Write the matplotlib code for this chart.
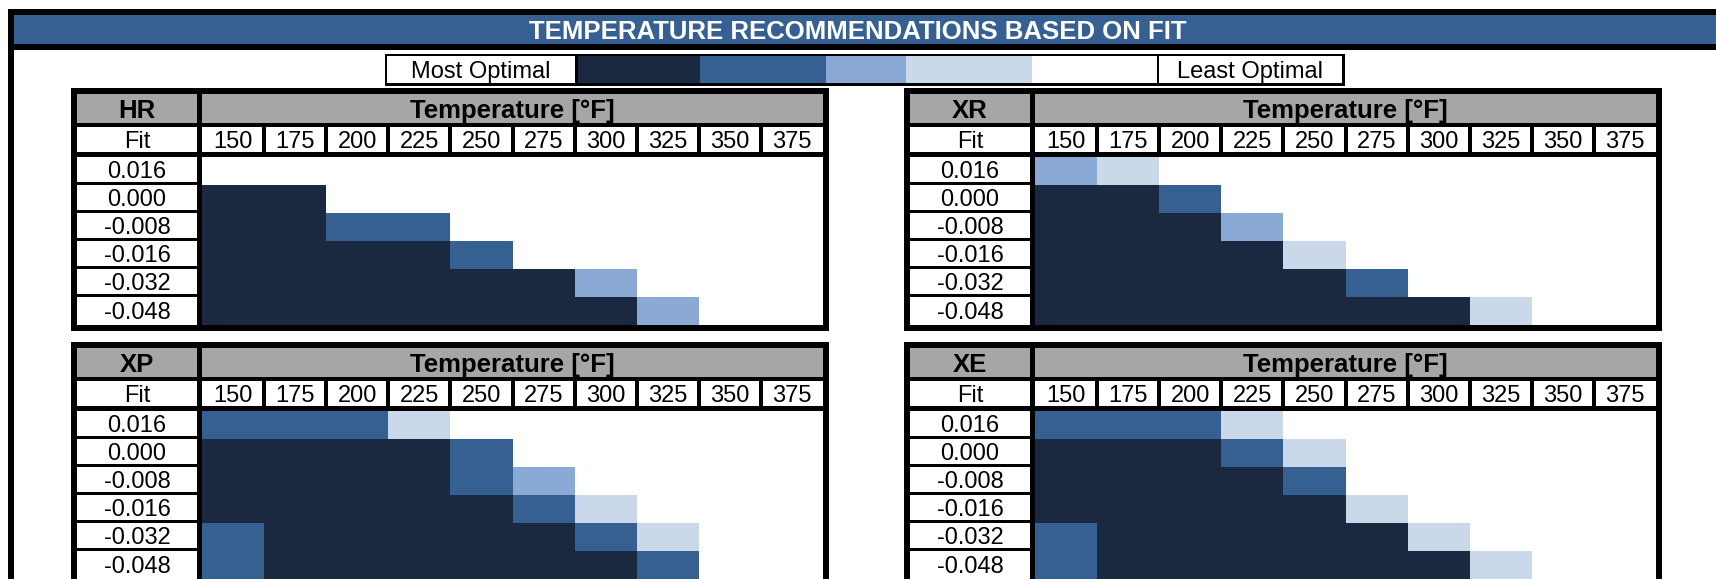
import matplotlib.pyplot as plt
import numpy as np
from matplotlib.colors import ListedColormap
from matplotlib.patches import Rectangle

# Data
fits = ['0.016', '0.000', '-0.008', '-0.016', '-0.032', '-0.048']
temps = [150, 175, 200, 225, 250, 275, 300, 325, 350, 375]
legend_ends = ['Most Optimal', 'Least Optimal']
ranks = [1, 2, 3, 4, 5]  # 1 = most optimal, 5 = least optimal

# rank per (fit, temperature)
hr_rank = [
    [5, 5, 5, 5, 5, 5, 5, 5, 5, 5],
    [1, 1, 5, 5, 5, 5, 5, 5, 5, 5],
    [1, 1, 2, 2, 5, 5, 5, 5, 5, 5],
    [1, 1, 1, 1, 2, 5, 5, 5, 5, 5],
    [1, 1, 1, 1, 1, 1, 3, 5, 5, 5],
    [1, 1, 1, 1, 1, 1, 1, 3, 5, 5],
]
xr_rank = [
    [3, 4, 5, 5, 5, 5, 5, 5, 5, 5],
    [1, 1, 2, 5, 5, 5, 5, 5, 5, 5],
    [1, 1, 1, 3, 5, 5, 5, 5, 5, 5],
    [1, 1, 1, 1, 4, 5, 5, 5, 5, 5],
    [1, 1, 1, 1, 1, 2, 5, 5, 5, 5],
    [1, 1, 1, 1, 1, 1, 1, 4, 5, 5],
]
xp_rank = [
    [2, 2, 2, 4, 5, 5, 5, 5, 5, 5],
    [1, 1, 1, 1, 2, 5, 5, 5, 5, 5],
    [1, 1, 1, 1, 2, 3, 5, 5, 5, 5],
    [1, 1, 1, 1, 1, 2, 4, 5, 5, 5],
    [2, 1, 1, 1, 1, 1, 2, 4, 5, 5],
    [2, 1, 1, 1, 1, 1, 1, 2, 5, 5],
]
xe_rank = [
    [2, 2, 2, 4, 5, 5, 5, 5, 5, 5],
    [1, 1, 1, 2, 4, 5, 5, 5, 5, 5],
    [1, 1, 1, 1, 2, 5, 5, 5, 5, 5],
    [1, 1, 1, 1, 1, 4, 5, 5, 5, 5],
    [2, 1, 1, 1, 1, 1, 4, 5, 5, 5],
    [2, 1, 1, 1, 1, 1, 1, 4, 5, 5],
]

# Colors
navy = '#1a2840'
mid_blue = '#366092'
light_blue = '#8ba9d5'
pale_blue = '#cad8ea'
header_gray = '#a6a6a6'
palette = [navy, mid_blue, light_blue, pale_blue, 'white']
cmap = ListedColormap(palette)

font = 'Liberation Sans'
small, big = 17, 18.5

fig = plt.figure(figsize=(17.16, 5.79), dpi=100)
ax = fig.add_axes([0, 0, 1, 1])
ax.set_xlim(0, 1716)
ax.set_ylim(579, 0)
ax.axis('off')


def box(x0, y0, x1, y1, color, z=1):
    ax.add_patch(Rectangle((x0, y0), x1 - x0, y1 - y0, facecolor=color,
                           edgecolor='none', zorder=z))


def label(x, yc, s, size, **kw):
    # put the middle of the cap height on yc (pixels, y grows downwards)
    ax.text(x, yc + 0.358 * size * 100 / 72, s, fontsize=size, ha='center',
            va='baseline', family=font, zorder=3, **kw)


# Outer frame and title band
box(8, 9, 1740, 50, 'black')
box(8, 9, 14, 600, 'black')
box(14, 15, 1740, 44, mid_blue, z=2)
label(858, 30, 'TEMPERATURE RECOMMENDATIONS BASED ON FIT', big,
      color='white', weight='bold')

# Legend strip
box(385, 54, 1345, 86, 'black')
box(387, 56, 575, 83, 'white', z=2)
box(1159, 56, 1342, 83, 'white', z=2)
seg_edges = [578, 700, 826, 906, 1032, 1157]
for r in ranks:
    box(seg_edges[r - 1], 56, seg_edges[r], 83, palette[r - 1], z=2)
label(481, 70, legend_ends[0], small)
label(1250, 70, legend_ends[1], small)


def draw_table(x0, y0, name, grid):
    box(x0, y0, x0 + 758, y0 + 243, 'black')
    lab_l, lab_r = x0 + 6, x0 + 126
    t_l, t_r = x0 + 131, x0 + 752
    col_w = (t_r - t_l) / len(temps)
    # header row
    box(lab_l, y0 + 6, lab_r, y0 + 35, header_gray, z=2)
    box(t_l, y0 + 6, t_r, y0 + 35, header_gray, z=2)
    label((lab_l + lab_r) / 2, y0 + 21, name, big, weight='bold')
    label((t_l + t_r) / 2, y0 + 21, 'Temperature [°F]', big, weight='bold')
    # sub-header row
    box(lab_l, y0 + 39, lab_r, y0 + 64, 'white', z=2)
    label((lab_l + lab_r) / 2, y0 + 52, 'Fit', small)
    for i, t in enumerate(temps):
        cl = t_l + i * col_w + (0 if i == 0 else 2)
        cr = t_l + (i + 1) * col_w - (0 if i == len(temps) - 1 else 2)
        box(cl, y0 + 39, cr, y0 + 64, 'white', z=2)
        label(t_l + (i + 0.5) * col_w, y0 + 52, str(t), small)
    # data rows
    d_top, d_bot = y0 + 69, y0 + 237
    row_h = (d_bot - d_top) / len(fits)
    x_edges = np.linspace(t_l, t_r, len(temps) + 1)
    y_edges = np.linspace(d_top, d_bot, len(fits) + 1)
    ax.pcolormesh(x_edges, y_edges, np.array(grid), cmap=cmap,
                  vmin=0.5, vmax=5.5, zorder=2)
    for j, f in enumerate(fits):
        top = d_top + j * row_h
        bot = top + row_h - (3 if j < len(fits) - 1 else 0)
        box(lab_l, top, lab_r, bot, 'white', z=2)
        label((lab_l + lab_r) / 2, (top + bot) / 2, f, small)


draw_table(71, 88, 'HR', hr_rank)
draw_table(904, 88, 'XR', xr_rank)
draw_table(71, 342, 'XP', xp_rank)
draw_table(904, 342, 'XE', xe_rank)

plt.savefig('out.png', dpi=100, facecolor='white')
plt.close()
